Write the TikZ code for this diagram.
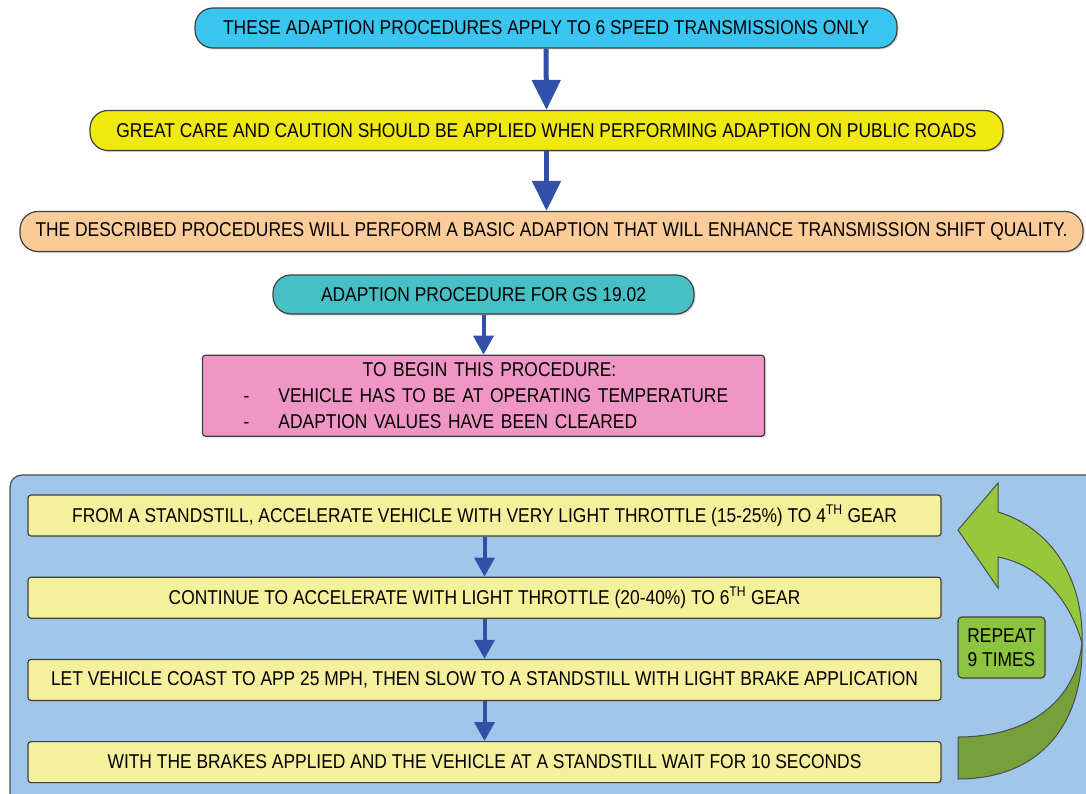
\documentclass[tikz,border=0pt]{standalone}
\usepackage{fontspec}
\setmainfont{Liberation Sans}[FakeStretch=0.87]
\usepackage{xcolor}
\usetikzlibrary{arrows.meta, positioning, calc, shadows}

\definecolor{topcyan}{RGB}{56,197,240}
\definecolor{warnyellow}{RGB}{240,233,14}
\definecolor{noteorange}{RGB}{251,203,153}
\definecolor{headteal}{RGB}{70,192,196}
\definecolor{prepink}{RGB}{240,150,196}
\definecolor{panelblue}{RGB}{160,198,234}
\definecolor{stepyellow}{RGB}{245,240,155}
\definecolor{arrowblue}{RGB}{50,80,168}
\definecolor{loopgreen}{RGB}{150,200,60}
\definecolor{loopdark}{RGB}{118,160,58}
\definecolor{repeatgreen}{RGB}{140,196,64}

\begin{document}
\begin{tikzpicture}[
		x=1pt, y=-1pt,
		node distance = 40pt,
		inner sep=0pt,
		font=\fontsize{20}{26}\selectfont,
		pill/.style={
				rectangle,
				rounded corners=18pt,
				minimum height=40pt,
				align=center,
				line width=1.2pt,
				draw=black!75,
				drop shadow={fill=black!30, shadow xshift=1.5pt, shadow yshift=-1.5pt}
			},
		stepbox/.style={
				rectangle,
				rounded corners=3pt,
				minimum width=913pt,
				minimum height=41pt,
				line width=1.2pt,
				draw=black!75,
				fill=stepyellow,
				drop shadow={fill=black!30, shadow xshift=1.5pt, shadow yshift=-1.5pt}
			},
		bigarrow/.style={draw=arrowblue, line width=5pt, -{Triangle[width=28pt,length=30pt]}},
		smallarrow/.style={draw=arrowblue, line width=4pt, -{Triangle[width=20pt,length=19pt]}},
		]

		\useasboundingbox (0,0) rectangle (1086,794);
		\clip (0,0) rectangle (1086,794);

		\node[pill, fill=topcyan, minimum width=702pt] (only6) at (546,28)
			{THESE ADAPTION PROCEDURES APPLY TO 6 SPEED TRANSMISSIONS ONLY};

		\node[pill, fill=warnyellow, minimum width=913pt] (care) at (546.5,130.5)
			{GREAT CARE AND CAUTION SHOULD BE APPLIED WHEN PERFORMING ADAPTION ON PUBLIC ROADS};

		\node[pill, fill=noteorange, minimum width=1063pt] (basic) at (551.5,231.5)
			{THE DESCRIBED PROCEDURES WILL PERFORM A BASIC ADAPTION THAT WILL ENHANCE TRANSMISSION SHIFT QUALITY.};

		\node[pill, fill=headteal, minimum width=421pt, minimum height=39pt] (gs) at (483.5,294.5)
			{ADAPTION PROCEDURE FOR GS 19.02};

		\node[pill, fill=prepink, rounded corners=3pt, minimum height=81pt,
			text width=522pt, inner xsep=20pt, align=left, below=of gs]
			(begin) {\makebox[\linewidth]{\hspace{12pt}TO BEGIN THIS PROCEDURE:}\\
			\hspace*{21pt}\makebox[35pt][l]{-}VEHICLE HAS TO BE AT OPERATING TEMPERATURE\\
			\hspace*{21pt}\makebox[35pt][l]{-}ADAPTION VALUES HAVE BEEN CLEARED};

		\draw[bigarrow] (only6.south) -- (care.north);

		\draw[bigarrow] (care.south) -- (care.south |- basic.north);

		\draw[smallarrow] (gs.south) -- (gs.south |- begin.north);

		% repeat loop panel
		\path[fill=panelblue, draw=black!70, line width=1.2pt, rounded corners=12pt]
			(10,475) rectangle (1120,830);

		\node[stepbox] (accel4) at (484.5,515.5)
			{FROM A STANDSTILL, ACCELERATE VEHICLE WITH VERY LIGHT THROTTLE (15-25\%) TO 4\textsuperscript{TH} GEAR};

		\node[stepbox, below=of accel4] (accel6)
			{CONTINUE TO ACCELERATE WITH LIGHT THROTTLE (20-40\%) TO 6\textsuperscript{TH} GEAR};

		\node[stepbox, below=of accel6] (coast)
			{LET VEHICLE COAST TO APP 25 MPH, THEN SLOW TO A STANDSTILL WITH LIGHT BRAKE APPLICATION};

		\node[stepbox, below=of coast] (wait)
			{WITH THE BRAKES APPLIED AND THE VEHICLE AT A STANDSTILL WAIT FOR 10 SECONDS};

		\draw[smallarrow] (accel4) -- (accel6);

		\draw[smallarrow] (accel6) -- (coast);

		\draw[smallarrow] (coast) -- (wait);

		% curved return arrow
		\coordinate (turn) at (1082,643);

		\path[fill=loopdark, draw=black!70, line width=1pt]
			(958,779) .. controls (1042,779) and (1084,722) .. (turn)
			.. controls (1076,700) and (1030,737) .. (958,737) -- cycle;

		\path[fill=loopgreen, draw=black!70, line width=1pt]
			(998,512) .. controls (1052,528) and (1084,580) .. (turn)
			.. controls (1070,600) and (1040,565) .. (998,557)
			-- (998,588) -- (958,530) -- (998,483) -- cycle;

		\node[pill, fill=repeatgreen, rounded corners=4pt, minimum width=87pt, minimum height=61pt]
			(times) at (1001.5,647.5) {REPEAT\\[-2pt]9 TIMES};

	\end{tikzpicture}
\end{document}
